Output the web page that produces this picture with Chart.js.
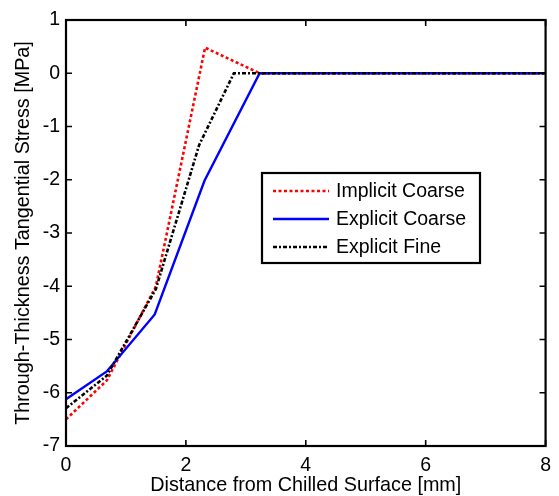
<!DOCTYPE html>
<html>
<head>
<meta charset="utf-8">
<script src="https://cdn.jsdelivr.net/npm/chart.js"></script>
<style>
  html, body { margin: 0; padding: 0; background: #fff; }
  #wrap { position: relative; width: 559px; height: 496px; }
</style>
</head>
<body>
<div id="wrap"><canvas id="stress" width="559" height="496"></canvas></div>
<script>
// values
const seriesNames = ["Implicit Coarse", "Explicit Coarse", "Explicit Fine"];
const implicitX = [0, 0.68, 1.5, 2.32, 3.23, 8];
const implicitY = [-6.5, -5.77, -4.0, 0.48, 0, 0];
const explicitX = [0, 0.68, 1.48, 2.31, 3.23, 8];
const explicitY = [-6.12, -5.6, -4.53, -2.02, 0, 0];
const fineX = [0, 0.68, 1.5, 2.22, 2.8, 8];
const fineY = [-6.29, -5.68, -4.05, -1.35, 0, 0];
const xTicks = [0, 2, 4, 6, 8];
const yTicks = [-7, -6, -5, -4, -3, -2, -1, 0, 1];

const pts = (xs, ys) => xs.map((x, i) => ({ x: x, y: ys[i] }));
const font = "'Liberation Sans', Arial, sans-serif";

// inward ticks, full box and legend drawn inside the plot, matlab style
const boxPlugin = {
  id: "box",
  afterDatasetsDraw(chart) {
    const { ctx, chartArea: a, scales } = chart;
    ctx.save();
    ctx.strokeStyle = "#000";
    ctx.lineWidth = 2.2;
    ctx.strokeRect(a.left, a.top, a.right - a.left, a.bottom - a.top);
    ctx.lineWidth = 1.6;
    ctx.beginPath();
    yTicks.forEach((v) => {
      const y = scales.y.getPixelForValue(v);
      ctx.moveTo(a.left, y); ctx.lineTo(a.left + 6, y);
      ctx.moveTo(a.right, y); ctx.lineTo(a.right - 6, y);
    });
    xTicks.forEach((v) => {
      const x = scales.x.getPixelForValue(v);
      ctx.moveTo(x, a.bottom); ctx.lineTo(x, a.bottom - 6);
      ctx.moveTo(x, a.top); ctx.lineTo(x, a.top + 6);
    });
    ctx.stroke();

    // legend
    const lx = 262, ly = 173, lw = 218, lh = 90;
    ctx.fillStyle = "#fff";
    ctx.fillRect(lx, ly, lw, lh);
    ctx.lineWidth = 2.2;
    ctx.strokeRect(lx, ly, lw, lh);
    ctx.font = "19.5px " + font;
    ctx.textBaseline = "middle";
    chart.data.datasets.forEach((ds, i) => {
      const y = ly + 18 + i * 28;
      ctx.strokeStyle = ds.borderColor;
      ctx.lineWidth = ds.borderWidth;
      ctx.setLineDash(ds.borderDash || []);
      ctx.beginPath();
      ctx.moveTo(lx + 11, y); ctx.lineTo(lx + 67, y);
      ctx.stroke();
      ctx.setLineDash([]);
      ctx.fillStyle = "#000";
      ctx.fillText(ds.label, lx + 74, y + 1);
    });
    ctx.restore();
  }
};

new Chart(document.getElementById("stress"), {
  type: "line",
  data: {
    datasets: [
      {
        label: seriesNames[0],
        data: pts(implicitX, implicitY),
        borderColor: "#ff0000",
        borderWidth: 2.6,
        borderDash: [3, 2.5],
        order: 3
      },
      {
        label: seriesNames[1],
        data: pts(explicitX, explicitY),
        borderColor: "#0000ff",
        borderWidth: 2.4,
        order: 2
      },
      {
        label: seriesNames[2],
        data: pts(fineX, fineY),
        borderColor: "#000000",
        borderWidth: 2.6,
        borderDash: [4, 2, 2, 2],
        order: 1
      }
    ]
  },
  options: {
    responsive: false,
    animation: false,
    devicePixelRatio: 1,
    layout: { padding: { top: 20, right: 11, left: 0, bottom: 0 } },
    elements: { point: { radius: 0 }, line: { tension: 0, fill: false } },
    plugins: { legend: { display: false }, tooltip: { enabled: false } },
    scales: {
      x: {
        type: "linear",
        min: 0,
        max: 8,
        afterBuildTicks: (s) => { s.ticks = xTicks.map((v) => ({ value: v })); },
        afterFit: (s) => { s.height = 50; },
        grid: { display: false, drawTicks: false },
        border: { display: false },
        ticks: { color: "#000", padding: 8, font: { family: font, size: 19.5 } },
        title: {
          display: true,
          text: "Distance from Chilled Surface [mm]",
          color: "#000",
          padding: { top: 0, bottom: -1 },
          font: { family: font, size: 19.8 }
        }
      },
      y: {
        type: "linear",
        min: -7,
        max: 1,
        afterBuildTicks: (s) => { s.ticks = yTicks.map((v) => ({ value: v })); },
        afterFit: (s) => { s.width = 66; },
        grid: { display: false, drawTicks: false },
        border: { display: false },
        ticks: { color: "#000", padding: 6, font: { family: font, size: 19.5 } },
        title: {
          display: true,
          text: "Through-Thickness Tangential Stress [MPa]",
          color: "#000",
          padding: { top: 12, bottom: 0 },
          font: { family: font, size: 19.8 }
        }
      }
    }
  },
  plugins: [boxPlugin]
});
</script>
</body>
</html>
